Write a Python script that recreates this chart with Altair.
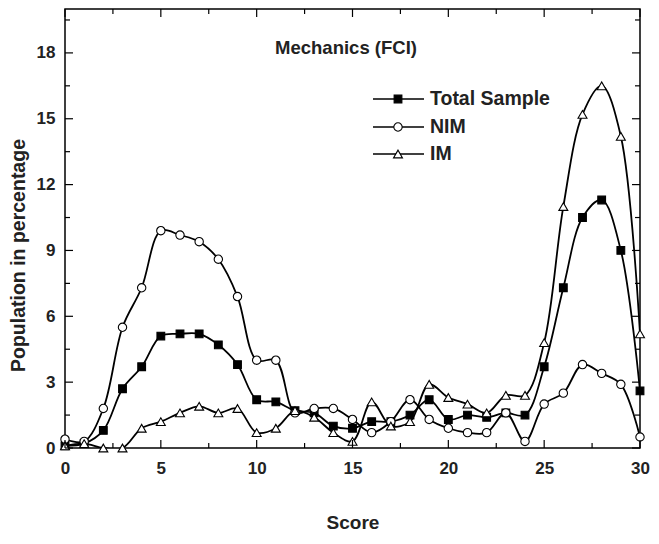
import altair as alt
import pandas as pd

scores = list(range(31))
total = [0.1, 0.2, 0.8, 2.7, 3.7, 5.1, 5.2, 5.2, 4.7, 3.8, 2.2, 2.1, 1.7, 1.6, 1.0, 0.9,
         1.2, 1.2, 1.5, 2.2, 1.3, 1.5, 1.4, 1.6, 1.5, 3.7, 7.3, 10.5, 11.3, 9.0, 2.6]
nim = [0.4, 0.3, 1.8, 5.5, 7.3, 9.9, 9.7, 9.4, 8.6, 6.9, 4.0, 4.0, 1.6, 1.8, 1.8, 1.3,
       0.7, 1.2, 2.2, 1.3, 0.9, 0.7, 0.7, 1.6, 0.3, 2.0, 2.5, 3.8, 3.4, 2.9, 0.5]
im = [0.1, 0.2, 0.0, 0.0, 0.9, 1.2, 1.6, 1.9, 1.6, 1.8, 0.7, 0.9, 1.7, 1.4, 0.7, 0.3,
      2.1, 1.0, 1.2, 2.9, 2.3, 2.0, 1.6, 2.4, 2.4, 4.8, 11.0, 15.2, 16.5, 14.2, 5.2]
series_names = ["Total Sample", "NIM", "IM"]
x_major = [0, 5, 10, 15, 20, 25, 30]
x_minor = [2.5, 7.5, 12.5, 17.5, 22.5, 27.5]
y_major = [0, 3, 6, 9, 12, 15, 18]
y_minor = [1.5, 4.5, 7.5, 10.5, 13.5, 16.5, 19.5]

W, H = 575, 439
LEFT = 57
FONT = "Liberation Sans"

rows = []
for name, vals in zip(series_names, [total, nim, im]):
    for s, v in zip(scores, vals):
        rows.append({"score": s, "value": v, "series": name})
df = pd.DataFrame(rows)

xs = alt.Scale(domain=[0, 30], nice=False, zero=False)
ys = alt.Scale(domain=[0, 20], nice=False)
shape_scale = alt.Scale(domain=series_names, range=["square", "circle", "triangle-up"])
fill_scale = alt.Scale(domain=series_names, range=["black", "white", "white"])
size_scale = alt.Scale(domain=series_names, range=[60, 80, 110])

X = alt.X("score:Q", scale=xs,
          axis=alt.Axis(values=x_major, ticks=False, domain=False, grid=False,
                        labelFontSize=17, labelFontWeight="bold", labelFont=FONT,
                        labelColor="#222", labelPadding=12, labelFlush=False,
                        title="Score", titleFontSize=19, titleFont=FONT,
                        titleFontWeight="bold", titleColor="#222", titlePadding=37))
Y = alt.Y("value:Q", scale=ys,
          axis=alt.Axis(values=y_major, ticks=False, domain=False, grid=False,
                        labelFontSize=17, labelFontWeight="bold", labelFont=FONT,
                        labelColor="#222", labelPadding=10, labelFlush=False,
                        title="Population in percentage", titleFontSize=19.5,
                        titleFont=FONT, titleFontWeight="bold", titleColor="#222",
                        titleX=-47, titleY=246, titleAngle=270, titleAlign="center",
                        titleBaseline="middle"))

base = alt.Chart(df)
lines = base.mark_line(interpolate="catmull-rom", color="black", strokeWidth=1.8,
                       clip=True).encode(x=X, y=Y, detail="series:N")
points = base.mark_point(filled=True, stroke="black", strokeWidth=1.1, opacity=1).encode(
    x=alt.X("score:Q", scale=xs), y=alt.Y("value:Q", scale=ys),
    shape=alt.Shape("series:N", scale=shape_scale, legend=None),
    fill=alt.Fill("series:N", scale=fill_scale, legend=None),
    size=alt.Size("series:N", scale=size_scale, legend=None))


def xticks(vals, length):
    d = alt.Chart(pd.DataFrame({"v": vals}))
    bot = d.mark_rule(color="black", strokeWidth=1.2).encode(
        x=alt.X("v:Q", scale=xs), y=alt.value(H), y2=alt.value(H - length))
    top = d.mark_rule(color="black", strokeWidth=1.2).encode(
        x=alt.X("v:Q", scale=xs), y=alt.value(0), y2=alt.value(length))
    return [bot, top]


def yticks(vals, length):
    d = alt.Chart(pd.DataFrame({"v": vals}))
    left = d.mark_rule(color="black", strokeWidth=1.2).encode(
        y=alt.Y("v:Q", scale=ys), x=alt.value(0), x2=alt.value(length))
    right = d.mark_rule(color="black", strokeWidth=1.2).encode(
        y=alt.Y("v:Q", scale=ys), x=alt.value(W), x2=alt.value(W - length))
    return [left, right]


tick_layers = xticks(x_major, 8) + xticks(x_minor, 5) + yticks(y_major, 8) + yticks(y_minor, 5)

title_txt = alt.Chart(pd.DataFrame({"t": ["Mechanics (FCI)"]})).mark_text(
    font=FONT, fontSize=18.5, fontWeight="bold", color="#222", align="center",
    baseline="middle").encode(text="t:N", x=alt.value(281), y=alt.value(39))

legend_layers = []
leg_y = [90, 118, 145]
for name, yy in zip(series_names, leg_y):
    ld = alt.Chart(pd.DataFrame({"series": [name]}))
    legend_layers.append(ld.mark_rule(color="black", strokeWidth=1.6).encode(
        x=alt.value(308), x2=alt.value(359), y=alt.value(yy)))
    legend_layers.append(ld.mark_point(filled=True, stroke="black", strokeWidth=1.1,
                                       opacity=1).encode(
        x=alt.value(333), y=alt.value(yy),
        shape=alt.Shape("series:N", scale=shape_scale, legend=None),
        fill=alt.Fill("series:N", scale=fill_scale, legend=None),
        size=alt.Size("series:N", scale=size_scale, legend=None)))
    legend_layers.append(ld.mark_text(font=FONT, fontSize=19.5, fontWeight="bold",
                                      color="#222", align="left",
                                      baseline="middle").encode(
        text="series:N", x=alt.value(365), y=alt.value(yy)))

chart = alt.layer(lines, points, *tick_layers, title_txt, *legend_layers).properties(
    width=W, height=H,
    autosize=alt.AutoSizeParams(type="none"),
    padding={"left": LEFT, "top": 1, "right": 643 - LEFT - W, "bottom": 88},
    background="white",
).configure_view(stroke="black", strokeWidth=1.5)

chart.save("out.html", embed_options={"renderer": "svg", "actions": False})
